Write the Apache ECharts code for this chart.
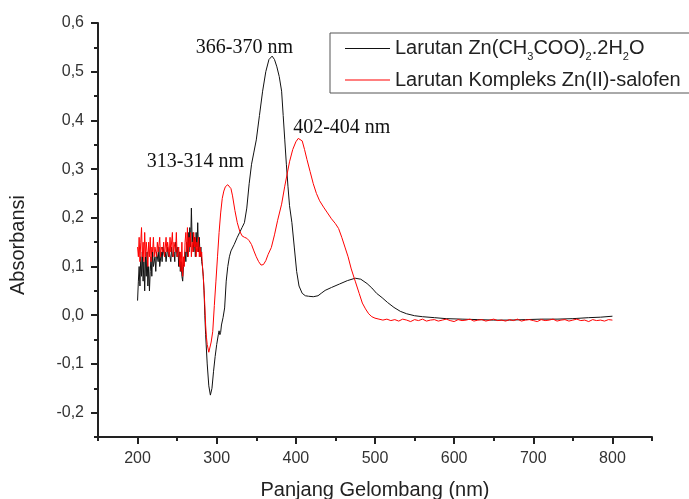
<!DOCTYPE html>
<html>
<head>
<meta charset="utf-8">
<script src="https://cdn.jsdelivr.net/npm/echarts@6/dist/echarts.min.js"></script>
<style>
  html, body { margin: 0; padding: 0; background: #fff; }
  #diagram { width: 689px; height: 499px; }
</style>
</head>
<body>
<div id="diagram"></div>
<script>
// absorbance spectra, [wavelength nm, absorbance]
var zincAcetate = [
  [200,0.03],[201,0.07],[202,0.10],[203,0.06],[204,0.12],[205,0.08],[206,0.13],[207,0.07],[208,0.11],[209,0.05],
  [210,0.12],[211,0.08],[212,0.13],[213,0.06],[214,0.10],[215,0.05],[216,0.09],[217,0.12],[218,0.08],[219,0.13],
  [220,0.10],[222,0.12],[223,0.09],[224,0.13],[226,0.11],[227,0.14],[228,0.10],[230,0.13],[231,0.11],[232,0.14],
  [234,0.12],[235,0.13],[236,0.11],[238,0.14],[239,0.12],[240,0.13],[242,0.11],[243,0.14],[244,0.12],[246,0.13],
  [247,0.11],[248,0.15],[250,0.12],[251,0.14],[252,0.10],[253,0.13],[254,0.09],[255,0.11],[256,0.08],[257,0.07],
  [258,0.10],[260,0.13],[261,0.11],[262,0.15],[263,0.12],[264,0.17],[265,0.13],[266,0.18],[267,0.14],[268,0.22],
  [269,0.15],[270,0.17],[271,0.13],[272,0.16],[273,0.12],[274,0.17],[275,0.14],[276,0.19],[277,0.13],[278,0.16],
  [279,0.12],[280,0.14],[281,0.11],[282,0.10],[283,0.08],[284,0.05],[285,0.00],[286,-0.04],[288,-0.10],[290,-0.145],
  [292,-0.164],[294,-0.15],[296,-0.115],[298,-0.085],[300,-0.06],[302,-0.04],[303,-0.032],[304,-0.04],[305,-0.035],[306,-0.02],
  [308,-0.005],[310,0.015],[312,0.07],[314,0.10],[316,0.12],[318,0.132],[322,0.145],[326,0.16],[329,0.17],[332,0.18],
  [335,0.19],[338,0.22],[341,0.27],[344,0.31],[347,0.335],[350,0.36],[354,0.41],[358,0.46],[362,0.50],[366,0.525],
  [370,0.532],[373,0.525],[376,0.51],[379,0.49],[382,0.46],[384,0.41],[386,0.36],[388,0.31],[390,0.265],[392,0.225],
  [395,0.19],[398,0.14],[401,0.09],[404,0.06],[408,0.045],[412,0.04],[416,0.039],[422,0.038],[428,0.04],[432,0.045],
  [437,0.051],[445,0.057],[455,0.064],[465,0.071],[475,0.076],[482,0.074],[490,0.065],[496,0.056],[502,0.045],[509,0.036],
  [516,0.026],[524,0.016],[532,0.008],[540,0.003],[550,-0.001],[560,-0.003],[575,-0.005],[590,-0.007],[610,-0.008],[630,-0.009],
  [650,-0.010],[670,-0.010],[690,-0.009],[710,-0.008],[730,-0.008],[750,-0.007],[770,-0.005],[785,-0.004],[800,-0.002]
];

var zincSalophen = [
  [200,0.14],[201,0.12],[202,0.16],[203,0.11],[204,0.15],[205,0.18],[206,0.12],[207,0.15],[208,0.11],[209,0.17],
  [210,0.12],[211,0.15],[212,0.13],[213,0.10],[214,0.15],[215,0.12],[216,0.16],[217,0.11],[218,0.14],[219,0.13],
  [220,0.16],[221,0.12],[222,0.14],[224,0.12],[225,0.15],[226,0.13],[228,0.16],[229,0.12],[230,0.14],[232,0.13],
  [233,0.15],[234,0.12],[236,0.16],[237,0.13],[238,0.15],[240,0.12],[241,0.16],[242,0.13],[244,0.17],[245,0.12],
  [246,0.15],[248,0.13],[249,0.17],[250,0.12],[252,0.14],[253,0.10],[254,0.13],[255,0.09],[256,0.15],[257,0.08],
  [258,0.12],[259,0.10],[260,0.15],[261,0.17],[262,0.13],[263,0.18],[264,0.12],[265,0.16],[266,0.14],[267,0.17],
  [268,0.12],[269,0.15],[270,0.13],[271,0.17],[272,0.14],[273,0.16],[274,0.12],[275,0.15],[276,0.13],[277,0.16],
  [278,0.12],[279,0.14],[280,0.12],[281,0.13],[282,0.10],[283,0.08],[284,0.05],[285,0.02],[286,-0.02],[287,-0.045],
  [288,-0.06],[290,-0.076],[291,-0.074],[293,-0.055],[295,-0.033],[297,0.02],[299,0.07],[301,0.12],[303,0.17],[305,0.21],
  [307,0.24],[309,0.255],[311,0.264],[314,0.268],[316,0.265],[318,0.26],[320,0.245],[323,0.215],[326,0.19],[329,0.173],
  [332,0.163],[335,0.16],[338,0.158],[341,0.153],[344,0.145],[347,0.132],[350,0.12],[353,0.11],[356,0.103],[359,0.104],
  [362,0.112],[365,0.125],[369,0.139],[373,0.165],[377,0.195],[382,0.228],[386,0.265],[389,0.29],[392,0.315],[396,0.34],
  [400,0.356],[403,0.363],[405,0.364],[408,0.358],[411,0.34],[414,0.32],[418,0.295],[422,0.27],[426,0.25],[430,0.235],
  [435,0.222],[440,0.21],[445,0.198],[450,0.188],[454,0.178],[458,0.16],[462,0.14],[466,0.12],[470,0.095],[475,0.07],
  [480,0.045],[484,0.025],[488,0.013],[492,0.003],[496,-0.003],[500,-0.006],[505,-0.008],[510,-0.010],[515,-0.008],[520,-0.011],
  [525,-0.009],[530,-0.012],[535,-0.008],[540,-0.010],[545,-0.013],[550,-0.009],[555,-0.011],[560,-0.008],[565,-0.012],[570,-0.010],
  [575,-0.009],[580,-0.012],[585,-0.010],[590,-0.008],[595,-0.011],[600,-0.013],[605,-0.009],[610,-0.011],[615,-0.010],[620,-0.008],
  [625,-0.012],[630,-0.010],[635,-0.009],[640,-0.012],[645,-0.010],[650,-0.008],[655,-0.011],[660,-0.010],[665,-0.012],[670,-0.009],
  [675,-0.011],[680,-0.008],[685,-0.012],[690,-0.010],[695,-0.009],[700,-0.011],[705,-0.013],[710,-0.009],[715,-0.011],[720,-0.010],
  [725,-0.008],[730,-0.012],[735,-0.010],[740,-0.009],[745,-0.012],[750,-0.010],[755,-0.008],[760,-0.011],[765,-0.010],[770,-0.013],
  [775,-0.009],[780,-0.011],[785,-0.010],[790,-0.012],[795,-0.009],[800,-0.010]
];

var seriesNames = ["Larutan Zn(CH3COO)2.2H2O", "Larutan Kompleks Zn(II)-salofen"];
var xTicks = [200, 300, 400, 500, 600, 700, 800];
var yTicks = [-0.2, -0.1, 0, 0.1, 0.2, 0.3, 0.4, 0.5, 0.6];

// peak annotations: text and where it sits (data coords)
var noteText = ["366-370 nm", "402-404 nm", "313-314 nm"];
var noteX = [335, 458, 273];
var noteY = [0.55, 0.384, 0.316];

var myChart = echarts.init(document.getElementById("diagram"));

var axisColor = "#222";
var labelColor = "#333";

var notes = noteText.map(function (t, i) {
  return { coord: [noteX[i], noteY[i]], value: t };
});

var option = {
  animation: false,
  color: ["#111111", "#ff0000"],
  grid: { left: 98, right: 37, top: 23, bottom: 62, containLabel: false, outerBoundsMode: "none" },
  legend: {
    orient: "vertical",
    left: 330,
    top: 33,
    padding: [2, 12, 0, 15],
    itemGap: 5,
    itemWidth: 45,
    itemHeight: 1,
    icon: "rect",
    selectedMode: false,
    borderColor: "#555",
    borderWidth: 1,
    data: seriesNames,
    formatter: function (name) {
      if (name === seriesNames[0]) {
        return "{t|Larutan Zn(CH}{s|3}{t|COO)}{s|2}{t|.2H}{s|2}{t|O}";
      }
      return "{t|" + name + "}";
    },
    textStyle: {
      color: "#222",
      fontFamily: "Liberation Sans",
      fontSize: 20,
      rich: {
        t: { fontSize: 20, lineHeight: 20, padding: [3, 0, 3, 0], fontFamily: "Liberation Sans", color: "#222" },
        s: { fontSize: 11, lineHeight: 10, padding: [16, 0, 0, 0], fontFamily: "Liberation Sans", color: "#222" }
      }
    }
  },
  xAxis: [
    {
      type: "value",
      min: 150,
      max: 850,
      name: "Panjang Gelombang (nm)",
      nameLocation: "middle",
      nameGap: 43,
      nameTextStyle: { fontFamily: "Liberation Sans", fontSize: 20, color: "#222" },
      axisLine: { onZero: false, lineStyle: { color: axisColor, width: 2 } },
      axisTick: { length: 7, customValues: xTicks, lineStyle: { color: axisColor, width: 2 } },
      axisLabel: { customValues: xTicks, margin: 14, fontFamily: "Liberation Sans", fontSize: 16, color: labelColor },
      splitLine: { show: false }
    },
    {
      type: "value",
      min: 150,
      max: 850,
      interval: 50,
      position: "bottom",
      axisLine: { show: false, onZero: false },
      axisTick: { length: 4, lineStyle: { color: axisColor, width: 2 } },
      axisLabel: { show: false },
      splitLine: { show: false }
    }
  ],
  yAxis: [
    {
      type: "value",
      min: -0.25,
      max: 0.6,
      name: "Absorbansi",
      nameLocation: "middle",
      nameGap: 70,
      nameTextStyle: { fontFamily: "Liberation Sans", fontSize: 20, color: "#222", padding: [0, 30, 0, 0] },
      axisLine: { show: true, onZero: false, lineStyle: { color: axisColor, width: 2 } },
      axisTick: { show: true, length: 7, customValues: yTicks, lineStyle: { color: axisColor, width: 2 } },
      axisLabel: {
        customValues: yTicks,
        margin: 14,
        fontFamily: "Liberation Sans",
        fontSize: 16,
        color: labelColor,
        formatter: function (v) { return v.toFixed(1).replace(".", ","); }
      },
      splitLine: { show: false }
    },
    {
      type: "value",
      min: -0.25,
      max: 0.6,
      interval: 0.05,
      position: "left",
      axisLine: { show: false, onZero: false },
      axisTick: { show: true, length: 4, lineStyle: { color: axisColor, width: 2 } },
      axisLabel: { show: false },
      splitLine: { show: false }
    }
  ],
  series: [
    {
      name: seriesNames[0],
      type: "line",
      data: zincAcetate,
      showSymbol: false,
      symbol: "none",
      lineStyle: { width: 1, color: "#111111" },
      markPoint: {
        symbol: "rect",
        symbolSize: 1,
        itemStyle: { color: "transparent" },
        label: {
          show: true,
          position: "inside",
          fontFamily: "Liberation Serif",
          fontSize: 20,
          color: "#111",
          formatter: function (p) { return p.value; }
        },
        data: notes
      }
    },
    {
      name: seriesNames[1],
      type: "line",
      data: zincSalophen,
      showSymbol: false,
      symbol: "none",
      lineStyle: { width: 1, color: "#ff0000" }
    }
  ]
};
myChart.setOption(option);
</script>
</body>
</html>
